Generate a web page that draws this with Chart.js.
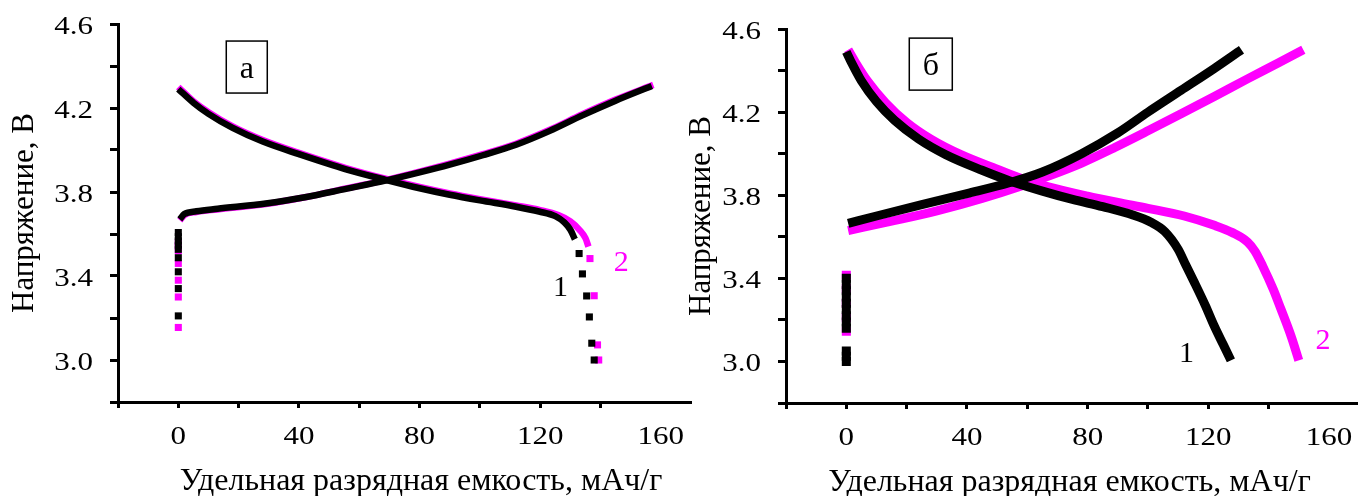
<!DOCTYPE html>
<html>
<head>
<meta charset="utf-8">
<script src="https://cdn.jsdelivr.net/npm/chart.js@4.4.0/dist/chart.umd.min.js"></script>
<style>
  body { margin: 0; background: #fff; }
  .wrap { position: absolute; top: 0; height: 496px; }
  #wrapA { left: 0; width: 700px; }
  #wrapB { left: 680px; width: 684px; }
</style>
</head>
<body>
<div class="wrap" id="wrapA"><canvas id="chartA"></canvas></div>
<div class="wrap" id="wrapB"><canvas id="chartB"></canvas></div>
<script>
// Tick labels shared by both panels
const xTickLabels = [0, 40, 80, 120, 160];
const yTickLabels = [3.0, 3.4, 3.8, 4.2, 4.6];
const xTitle = 'Удельная разрядная емкость, мАч/г';
const yTitle = 'Напряжение, В';

// Panel а, sample 1 (black): [capacity, voltage]
const aChg1Start = [[0,3.607],[0,3.587],[0,3.567],[0,3.547],[0,3.527],[0,3.487],[0,3.42],[0,3.34],[0,3.21]];
const aChg1 = [[0.5,3.67],[2,3.695],[6,3.708],[13,3.72],[29,3.745],[42,3.775],[55.6,3.815],[69,3.855],[80,3.893],[90,3.93],[101,3.975],[112,4.025],[123,4.09],[134,4.165],[145,4.235],[157,4.305]];
const aDis1 = [[0,4.29],[5,4.225],[10,4.172],[18,4.105],[28,4.04],[40,3.98],[55.6,3.908],[69,3.857],[80,3.818],[90,3.787],[100,3.76],[112,3.73],[119.6,3.707],[125,3.685],[128,3.655],[130,3.62],[131.5,3.575]];
const aDis1Tail = [[132.9,3.507],[134,3.41],[135.4,3.305],[136.3,3.205],[137.1,3.08],[137.9,3.0]];

// Panel а, sample 2 (magenta)
const aChg2Start = [[0,3.56],[0,3.54],[0,3.52],[0,3.46],[0,3.38],[0,3.3],[0,3.155]];
const aChg2 = [[0.5,3.665],[2,3.69],[6,3.705],[13,3.717],[29,3.743],[42,3.775],[55.6,3.817],[69,3.858],[80,3.897],[90,3.935],[101,3.98],[112,4.03],[123,4.095],[134,4.17],[145,4.24],[157.5,4.31]];
const aDis2 = [[0,4.3],[5,4.232],[10,4.18],[18,4.112],[28,4.047],[40,3.986],[55.6,3.914],[69,3.862],[80,3.824],[90,3.793],[100,3.766],[112,3.736],[120,3.714],[126,3.69],[130,3.66],[133,3.62],[135,3.58],[136,3.54]];
const aDis2Tail = [[136.5,3.483],[137.9,3.306],[139,3.072],[139.4,3.0]];

// Panel б, sample 1 (black)
const bStart1 = [[0,3.4],[0,3.37],[0,3.34],[0,3.31],[0,3.28],[0,3.25],[0,3.22],[0,3.19],[0,3.16],[0,3.05],[0,3.025],[0,3.0]];
const bChg1 = [[0.6,3.665],[10,3.7],[25,3.755],[40,3.808],[54,3.86],[65,3.912],[78,4.0],[90,4.1],[100,4.2],[111,4.305],[122,4.41],[131,4.5]];
const bDis1 = [[0,4.49],[2,4.43],[5,4.35],[10,4.25],[16,4.16],[24,4.07],[33,3.995],[45,3.92],[54,3.87],[65,3.82],[75,3.78],[85,3.745],[95,3.705],[101,3.67],[105.6,3.625],[110,3.54],[112.5,3.465],[115.4,3.38],[119,3.27],[122,3.17],[125,3.08],[127.5,3.005]];

// Panel б, sample 2 (magenta)
const bStart2 = [[0,3.415],[0,3.35],[0,3.28],[0,3.21],[0,3.145]];
const bChg2 = [[0.6,3.63],[15,3.675],[30,3.725],[45,3.785],[58,3.845],[67,3.892],[78,3.955],[89,4.03],[100,4.11],[111,4.192],[122,4.275],[133,4.36],[143,4.435],[151.5,4.5]];
const bDis2 = [[0.6,4.5],[3,4.44],[7,4.35],[13,4.245],[20,4.15],[28,4.07],[38,3.995],[50,3.925],[58,3.88],[67,3.84],[80,3.795],[90,3.765],[100,3.737],[112,3.7],[122,3.655],[128,3.62],[133,3.575],[135.5,3.53],[138,3.46],[141.6,3.345],[144,3.255],[147,3.14],[148.5,3.075],[150,3.005]];

const BLACK = '#000000';
const MAGENTA = '#ff00ff';
const SERIF = '"Liberation Serif", "Times New Roman", serif';

function pts(arr) {
    return arr.map(([x, y]) => ({ x, y }));
}

// dense runs of markers are drawn as a thick smooth line
function curve(arr, color, width) {
    return {
        data: pts(arr),
        showLine: true,
        borderColor: color,
        borderWidth: width,
        pointRadius: 0,
        cubicInterpolationMode: 'monotone'
    };
}

// separate square markers
function dots(arr, color, r) {
    return {
        data: pts(arr),
        showLine: false,
        pointStyle: 'rect',
        pointRadius: r,
        pointBackgroundColor: color,
        pointBorderWidth: 0
    };
}

// tick numbers are a little squashed vertically
function squash(ctx, text, x, baseline) {
    ctx.save();
    ctx.translate(x, baseline);
    ctx.scale(1, 0.82);
    ctx.fillText(text, 0, 0);
    ctx.restore();
}

const panelText = {
    id: 'panelText',
    afterDraw(chart, args, opts) {
        const { ctx, chartArea } = chart;
        const xs = chart.scales.x, ys = chart.scales.y;
        ctx.save();
        ctx.fillStyle = BLACK;
        ctx.textBaseline = 'alphabetic';
        ctx.font = '31px ' + SERIF;

        ctx.textAlign = 'center';
        xTickLabels.forEach(v => squash(ctx, String(v), xs.getPixelForValue(v), chartArea.bottom + 42));
        ctx.textAlign = 'right';
        yTickLabels.forEach(v => squash(ctx, v.toFixed(1), chartArea.left - 25, ys.getPixelForValue(v) + 10));

        ctx.textAlign = 'center';
        ctx.font = '32px ' + SERIF;
        ctx.fillText(xTitle, xs.getPixelForValue(opts.titleAt), chartArea.bottom + 88);

        // framed panel letter
        const bx = xs.getPixelForValue(opts.box.x), by = ys.getPixelForValue(opts.box.y);
        ctx.strokeStyle = BLACK;
        ctx.lineWidth = 1.5;
        ctx.strokeRect(bx - opts.box.w / 2, by - 26, opts.box.w, 52);
        ctx.font = '32px ' + SERIF;
        ctx.fillText(opts.box.text, bx, by + 11);

        // curve numbers
        ctx.font = '30px ' + SERIF;
        opts.marks.forEach(m => {
            ctx.fillStyle = m.color;
            ctx.fillText(m.text, xs.getPixelForValue(m.x), ys.getPixelForValue(m.y));
        });
        ctx.restore();
    }
};

function makeChart(id, datasets, cfg) {
    const axisGrid = (len) => ({
        display: true,
        drawOnChartArea: false,
        drawTicks: true,
        tickLength: len,
        tickWidth: 3,
        tickColor: BLACK
    });
    const axisBorder = { display: true, color: BLACK, width: 3 };
    return new Chart(document.getElementById(id), {
        type: 'scatter',
        data: { datasets },
        options: {
            responsive: true,
            maintainAspectRatio: false,
            animation: false,
            layout: { padding: { top: cfg.top, right: cfg.right, left: 0, bottom: 0 } },
            plugins: {
                legend: { display: false },
                tooltip: { enabled: false },
                panelText: cfg.text
            },
            scales: {
                x: {
                    type: 'linear',
                    min: -20,
                    max: cfg.xMax,
                    ticks: { display: false, stepSize: 20 },
                    afterBuildTicks: s => {
                        s.ticks = s.ticks.filter(t => Math.abs(t.value / 20 - Math.round(t.value / 20)) < 1e-6);
                    },
                    afterFit: s => { s.height = cfg.xHeight; },
                    grid: axisGrid(6),
                    border: axisBorder
                },
                y: {
                    type: 'linear',
                    min: 2.8,
                    max: 4.6,
                    ticks: { display: false, stepSize: 0.2 },
                    afterFit: s => { s.width = cfg.yWidth; },
                    grid: axisGrid(8),
                    border: axisBorder,
                    title: {
                        display: true,
                        text: yTitle,
                        color: BLACK,
                        font: { family: SERIF, size: 31, lineHeight: 1.2 },
                        padding: { top: cfg.titlePad, bottom: 0 }
                    }
                }
            }
        },
        plugins: [panelText]
    });
}

// Panel а
makeChart('chartA', [
    curve(aChg1, BLACK, 6.5),
    curve(aDis1, BLACK, 6.5),
    dots(aChg1Start, BLACK, 5),
    dots(aDis1Tail, BLACK, 5),
    curve(aChg2, MAGENTA, 6.5),
    curve(aDis2, MAGENTA, 6.5),
    dots(aChg2Start, MAGENTA, 5),
    dots(aDis2Tail, MAGENTA, 5)
], {
    top: 24, right: 9, xMax: 170, xHeight: 94, yWidth: 118, titlePad: 6.4,
    text: {
        titleAt: 80.5,
        box: { text: 'а', x: 22.7, y: 4.395, w: 41 },
        marks: [
            { text: '1', x: 126.7, y: 3.306, color: BLACK },
            { text: '2', x: 146.9, y: 3.425, color: MAGENTA }
        ]
    }
});

// Panel б
makeChart('chartB', [
    curve(bChg1, BLACK, 9),
    curve(bDis1, BLACK, 9),
    dots(bStart1, BLACK, 6.4),
    curve(bChg2, MAGENTA, 9),
    curve(bDis2, MAGENTA, 9),
    dots(bStart2, MAGENTA, 6.4)
], {
    top: 29, right: 0, xMax: 169.5, xHeight: 93, yWidth: 106, titlePad: 3.4,
    text: {
        titleAt: 74,
        box: { text: 'б', x: 28.0, y: 4.431, w: 43 },
        marks: [
            { text: '1', x: 112.8, y: 2.995, color: BLACK },
            { text: '2', x: 158, y: 3.058, color: MAGENTA }
        ]
    }
});
</script>
</body>
</html>
